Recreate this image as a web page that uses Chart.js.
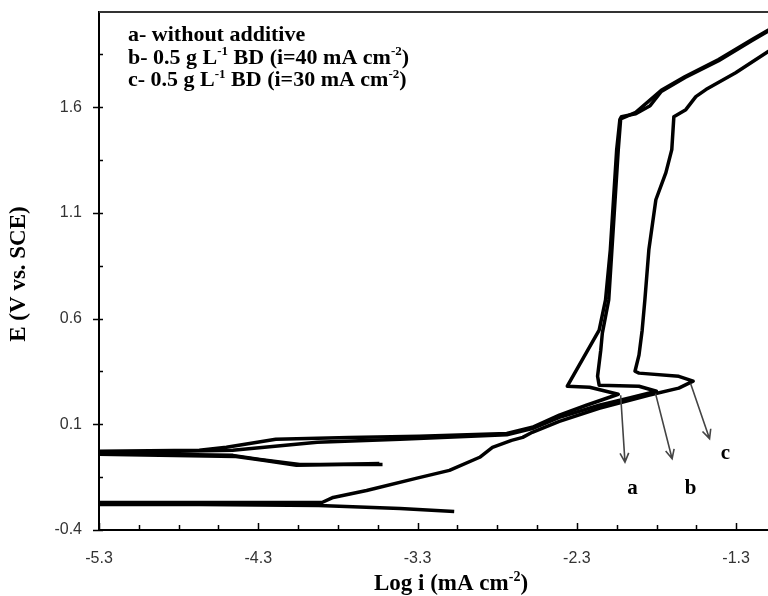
<!DOCTYPE html>
<html>
<head>
<meta charset="utf-8">
<script src="https://cdn.jsdelivr.net/npm/chart.js@4.4.1/dist/chart.umd.min.js"></script>
<style>
  html, body { margin: 0; padding: 0; background: #fff; }
</style>
</head>
<body>
<canvas id="chart" width="768" height="596"></canvas>
<script>
// curve a - without additive
const aLogI = [-3.52, -4.04, -4.29, -4.46, -4.92, -5.30, -5.30, -4.67, -4.50, -4.19, -3.73, -3.29, -2.74, -2.58, -2.41, -2.24, -2.04,
  -2.22, -2.36, -2.26, -2.16, -2.12, -2.09, -2.07, -2.05, -2.03, -2.02, -1.93, -1.84, -1.77, -1.62, -1.41, -1.20, -1.03];
const aE = [-0.090, -0.090, -0.066, -0.047, -0.042, -0.037, -0.027, -0.023, -0.009, 0.029, 0.038, 0.043, 0.057, 0.086, 0.143, 0.190, 0.242,
  0.275, 0.280, 0.413, 0.545, 0.688, 0.925, 1.162, 1.399, 1.541, 1.555, 1.569, 1.607, 1.674, 1.740, 1.820, 1.915, 1.991];

// curve b - 0.5 g/L BD, 40 mA/cm2
const bLogI = [-3.54, -4.06, -4.27, -4.44, -4.92, -5.30, -5.30, -4.80, -4.46, -3.93, -3.41, -2.74, -2.58, -2.41, -2.16, -1.97, -1.80,
  -1.91, -2.16, -2.17, -2.15, -2.14, -2.10, -2.08, -2.06, -2.04, -2.025, -1.93, -1.77, -1.62, -1.41, -1.20, -1.03];
const bE = [-0.085, -0.094, -0.070, -0.052, -0.047, -0.042, -0.032, -0.028, -0.023, 0.015, 0.029, 0.050, 0.080, 0.133, 0.190, 0.224, 0.256,
  0.280, 0.285, 0.327, 0.450, 0.531, 0.688, 0.925, 1.162, 1.399, 1.545, 1.575, 1.680, 1.745, 1.825, 1.920, 1.995];

// curve c - 0.5 g/L BD, 30 mA/cm2
const cLogI = [-3.07, -3.41, -3.92, -4.67, -5.30, -5.30, -4.35, -3.90, -3.83, -3.62, -3.31, -3.10, -2.91, -2.83, -2.71, -2.64, -2.58, -2.41, -2.16, -1.85, -1.66, -1.57,
  -1.66, -1.91, -1.935, -1.91, -1.89, -1.873, -1.848, -1.804, -1.741, -1.704, -1.691, -1.616, -1.553, -1.490, -1.303, -1.033];
const cE = [-0.312, -0.298, -0.284, -0.279, -0.279, -0.270, -0.270, -0.270, -0.246, -0.213, -0.156, -0.118, -0.056, -0.009, 0.024, 0.038, 0.062, 0.114, 0.176, 0.237, 0.271, 0.304,
  0.327, 0.342, 0.351, 0.427, 0.545, 0.688, 0.925, 1.162, 1.290, 1.399, 1.555, 1.588, 1.650, 1.683, 1.763, 1.896];

// arrows pointing to the curves, and their letters
const arrowNames = ['a', 'b', 'c'];
const arrowFromX = [-2.025, -1.806, -1.586];
const arrowFromY = [0.237, 0.245, 0.293];
const arrowToX = [-1.998, -1.702, -1.467];
const arrowToY = [-0.079, -0.063, 0.032];
const letterX = [-1.95, -1.586, -1.367];
const letterY = [-0.205, -0.205, -0.039];

// text pieces: [text, superscript?]
const legendLines = [
  [['a- without additive', false]],
  [['b- 0.5 g L', false], ['-1', true], [' BD (i=40 mA cm', false], ['-2', true], [')', false]],
  [['c- 0.5 g L', false], ['-1', true], [' BD (i=30 mA cm', false], ['-2', true], [')', false]]
];
const xTitle = [['Log i (mA cm', false], ['-2', true], [')', false]];
const yTitle = 'E (V vs. SCE)';

const xTicks = [];
for (let i = 0; i <= 16; i++) xTicks.push(-5.3 + i * 0.25);
const yTicks = [];
for (let i = 0; i <= 9; i++) yTicks.push(-0.4 + i * 0.25);

const isMajorY = v => Math.round((v + 0.4) * 4) % 2 === 0;
const isMajorX = v => Math.round((v + 5.3) * 4) % 4 === 0;

const zip = (xs, ys) => xs.map((v, i) => ({ x: v, y: ys[i] }));
const curve = (xs, ys) => ({
  data: zip(xs, ys),
  borderColor: '#000',
  borderWidth: 3.5,
  borderJoinStyle: 'round',
  pointRadius: 0,
  fill: false,
  tension: 0,
  showLine: true
});

const serif = '"Liberation Serif", "Times New Roman", serif';
const sans = '"Liberation Sans", Arial, sans-serif';

// draws a line of bold serif text with small raised pieces
function drawRich(ctx, parts, x, y, size, align) {
  const big = 'bold ' + size + 'px ' + serif;
  const small = 'bold ' + Math.round(size * 0.6) + 'px ' + serif;
  let total = 0;
  parts.forEach(p => { ctx.font = p[1] ? small : big; total += ctx.measureText(p[0]).width; });
  let cx = align === 'center' ? x - total / 2 : x;
  ctx.textAlign = 'left';
  ctx.textBaseline = 'alphabetic';
  parts.forEach(p => {
    ctx.font = p[1] ? small : big;
    ctx.fillText(p[0], cx, p[1] ? y - size * 0.38 : y);
    cx += ctx.measureText(p[0]).width;
  });
}

const decor = {
  id: 'decor',
  afterDraw(chart) {
    const { ctx, chartArea, scales: { x, y } } = chart;
    ctx.save();
    // top frame line
    ctx.strokeStyle = '#333';
    ctx.lineWidth = 2;
    ctx.beginPath();
    ctx.moveTo(chartArea.left, chartArea.top);
    ctx.lineTo(chartArea.right, chartArea.top);
    ctx.stroke();

    // tick marks
    ctx.strokeStyle = '#000';
    ctx.lineWidth = 1.5;
    ctx.beginPath();
    xTicks.forEach(v => {
      const px = Math.round(x.getPixelForValue(v)) + 0.5;
      ctx.moveTo(px, chartArea.bottom);
      ctx.lineTo(px, chartArea.bottom - (isMajorX(v) ? 7 : 5));
    });
    yTicks.forEach(v => {
      const py = Math.round(y.getPixelForValue(v)) + 0.5;
      ctx.moveTo(chartArea.left - (isMajorY(v) ? 6 : 0), py);
      ctx.lineTo(chartArea.left + 4, py);
    });
    ctx.stroke();

    // legend text block
    ctx.fillStyle = '#000';
    legendLines.forEach((parts, i) => drawRich(ctx, parts, 128, 41 + i * 22.5, 22, 'left'));

    // x axis title
    drawRich(ctx, xTitle, 451, 590, 23, 'center');

    // y axis title
    ctx.save();
    ctx.translate(19, 274);
    ctx.rotate(-Math.PI / 2);
    ctx.font = 'bold 23px ' + serif;
    ctx.textAlign = 'center';
    ctx.textBaseline = 'middle';
    ctx.fillText(yTitle, 0, 0);
    ctx.restore();

    // arrows
    ctx.strokeStyle = '#444';
    ctx.lineWidth = 1.6;
    arrowNames.forEach((n, i) => {
      const x1 = x.getPixelForValue(arrowFromX[i]);
      const y1 = y.getPixelForValue(arrowFromY[i]);
      const x2 = x.getPixelForValue(arrowToX[i]);
      const y2 = y.getPixelForValue(arrowToY[i]);
      const ang = Math.atan2(y2 - y1, x2 - x1);
      ctx.beginPath();
      ctx.moveTo(x1, y1);
      ctx.lineTo(x2, y2);
      ctx.moveTo(x2 - 10 * Math.cos(ang - 0.45), y2 - 10 * Math.sin(ang - 0.45));
      ctx.lineTo(x2, y2);
      ctx.lineTo(x2 - 10 * Math.cos(ang + 0.45), y2 - 10 * Math.sin(ang + 0.45));
      ctx.stroke();
      ctx.font = 'bold 21px ' + serif;
      ctx.textAlign = 'center';
      ctx.textBaseline = 'middle';
      ctx.fillText(n, x.getPixelForValue(letterX[i]), y.getPixelForValue(letterY[i]));
    });
    ctx.restore();
  }
};

new Chart(document.getElementById('chart'), {
  type: 'scatter',
  data: {
    datasets: [curve(aLogI, aE), curve(bLogI, bE), curve(cLogI, cE)]
  },
  options: {
    responsive: false,
    animation: false,
    layout: { padding: { top: 12, left: 0, right: 0, bottom: 0 } },
    plugins: { legend: { display: false }, tooltip: { enabled: false } },
    scales: {
      x: {
        type: 'linear',
        min: -5.3,
        max: -1.1,
        afterBuildTicks: s => { s.ticks = xTicks.map(v => ({ value: v })); },
        afterFit: s => { s.height = 66; s.paddingLeft = 0; s.paddingRight = 0; },
        grid: { display: false, drawTicks: false },
        border: { display: true, color: '#000', width: 2 },
        ticks: {
          autoSkip: false,
          maxRotation: 0,
          padding: 19,
          color: '#333',
          font: { family: sans, size: 16 },
          callback: v => isMajorX(v) ? v.toFixed(1) : ''
        }
      },
      y: {
        type: 'linear',
        min: -0.4,
        max: 2.05,
        afterBuildTicks: s => { s.ticks = yTicks.map(v => ({ value: v })); },
        afterFit: s => { s.width = 99; s.paddingTop = 0; s.paddingBottom = 0; },
        grid: { display: false, drawTicks: false },
        border: { display: true, color: '#000', width: 2 },
        ticks: {
          autoSkip: false,
          padding: 17,
          color: '#333',
          font: { family: sans, size: 16 },
          callback: v => isMajorY(v) ? v.toFixed(1) : ''
        }
      }
    }
  },
  plugins: [decor]
});
</script>
</body>
</html>
